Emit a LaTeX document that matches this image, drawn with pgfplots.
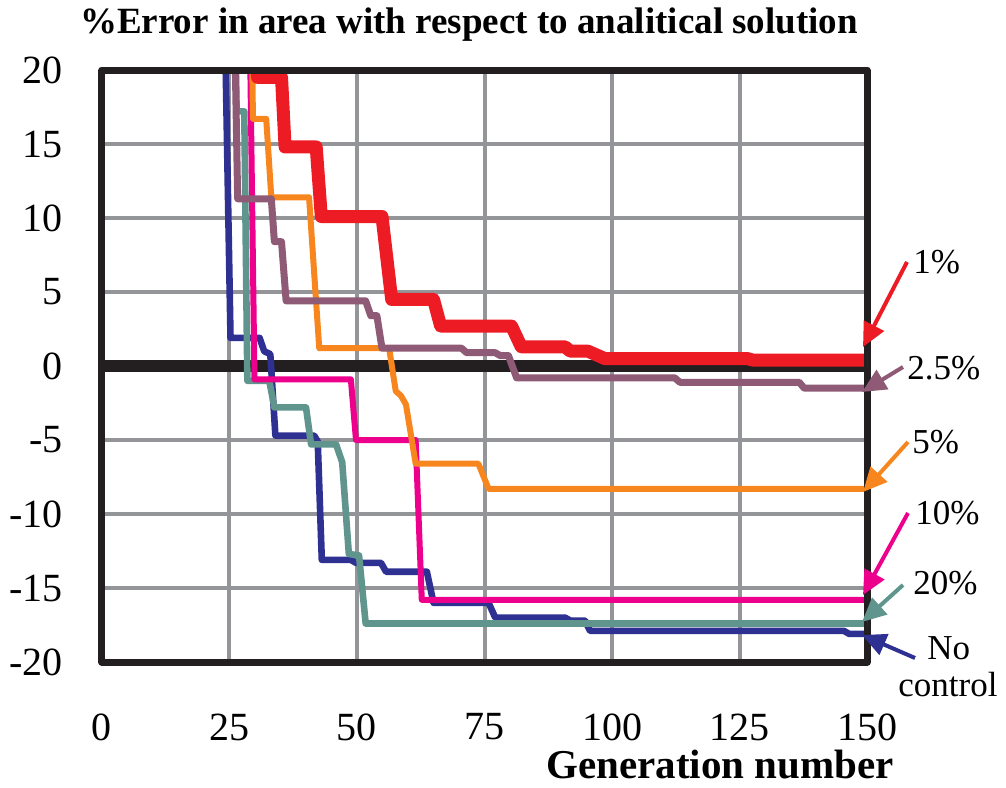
\documentclass[border=0pt]{standalone}
\usepackage{fontspec}
\setmainfont{Liberation Serif}
\usepackage{pgfplots}
\pgfplotsset{compat=1.18}
\usetikzlibrary{arrows.meta}

\definecolor{cRed}{HTML}{ED1C24}
\definecolor{cPurple}{HTML}{8E5A75}
\definecolor{cOrange}{HTML}{F7861F}
\definecolor{cMagenta}{HTML}{EC008C}
\definecolor{cTeal}{HTML}{5F958D}
\definecolor{cBlue}{HTML}{2E3192}
\definecolor{cGrid}{HTML}{939598}
\definecolor{cFrame}{HTML}{231F20}

\begin{document}
\begin{tikzpicture}
\useasboundingbox (-51pt,-62.5pt) rectangle (452pt,331pt);

%%%%%%%%%%%%%%%%%%%%%%%%%%% Axes Set-up %%%%%%%%%%%%%%%%%%%%%%%%%%%%%%%
\begin{axis}[at={(0pt,0pt)}, anchor=south west,
scale only axis, width=382.5pt, height=296pt,
xmin=0, xmax=150, ymin=-20, ymax=20,
xtick={0,25,...,150}, ytick={-20,-15,...,20},
xticklabels={0,25,50,75,100,125,150},
yticklabels={-20,-15,-10,-5,0,5,10,15,20},
major tick length=0pt,
grid=major, grid style={line width=2pt, color=cGrid},
axis line style={line width=3.5pt, color=cFrame},
tick label style={font=\fontsize{20}{22}\selectfont, inner sep=0pt},
xticklabel style={anchor=center, yshift=-32.5pt},
yticklabel style={anchor=east, xshift=-19.5pt},
line join=round]

% zero line
\addplot[no marks, line width=6pt, cFrame] coordinates {(0,0) (150,0)};

%%%%%%%%%%%%%%%%%%%%%%%%%%% No control %%%%%%%%%%%%%%%%%%%%%%%%%%%%%%%
\addplot[no marks, line width=3.3pt, cBlue] coordinates {
(24.0,25) (25.2,1.9) (30.9,1.9) (31.8,1.0) (33.0,0.8) (34.0,-4.7)
(41.6,-4.7) (42.3,-5.1) (43.1,-13.1) (48.8,-13.1) (49.8,-13.3) (54.7,-13.3)
(55.7,-13.9) (63.7,-13.9) (65.0,-16.0) (75.8,-16.0) (77.1,-17.0) (90.8,-17.0)
(91.8,-17.2) (94.7,-17.2) (95.7,-17.9) (145.5,-17.9) (146.5,-18.1) (150,-18.1)};

%%%%%%%%%%%%%%%%%%%%%%%%%%% 20% %%%%%%%%%%%%%%%%%%%%%%%%%%%%%%%
\addplot[no marks, line width=3.3pt, cTeal] coordinates {
(26.0,25) (26.4,17.2) (27.9,17.2) (28.5,-1.0) (32.8,-1.0) (33.8,-2.8)
(40.0,-2.8) (41.0,-5.3) (45.9,-5.3) (47.1,-6.5) (48.4,-12.7) (50.4,-12.8)
(51.7,-17.4) (150,-17.4)};

%%%%%%%%%%%%%%%%%%%%%%%%%%% 10% %%%%%%%%%%%%%%%%%%%%%%%%%%%%%%%
\addplot[no marks, line width=3pt, cMagenta] coordinates {
(28.9,25) (29.9,-0.9) (48.8,-0.9) (49.8,-5.0) (61.5,-5.0) (62.7,-15.8)
(150,-15.8)};

%%%%%%%%%%%%%%%%%%%%%%%%%%% 5% %%%%%%%%%%%%%%%%%%%%%%%%%%%%%%%
\addplot[no marks, line width=3pt, cOrange] coordinates {
(29.3,25) (29.6,16.7) (32.2,16.7) (33.2,11.4) (40.6,11.4) (42.6,1.2)
(56.3,1.2) (57.6,-1.7) (58.6,-2.0) (59.6,-2.6) (61.5,-6.6) (73.8,-6.6)
(75.8,-8.3) (150,-8.3)};

%%%%%%%%%%%%%%%%%%%%%%%%%%% 2.5% %%%%%%%%%%%%%%%%%%%%%%%%%%%%%%%
\addplot[no marks, line width=3.5pt, cPurple] coordinates {
(25.9,25) (26.6,11.3) (33.2,11.3) (33.8,8.4) (35.2,8.4) (36.1,4.4)
(51.7,4.4) (52.7,3.4) (53.9,3.4) (54.9,1.2) (70.5,1.2) (71.5,0.9)
(77.1,0.9) (78.1,0.7) (79.7,0.7) (81.3,-0.8) (112.3,-0.8) (113.3,-1.1)
(136.7,-1.1) (137.7,-1.5) (150,-1.5)};

%%%%%%%%%%%%%%%%%%%%%%%%%%% 1% %%%%%%%%%%%%%%%%%%%%%%%%%%%%%%%
\addplot[no marks, line width=6.5pt, cRed] coordinates {
(30.2,23) (30.5,19.5) (35.2,19.5) (35.9,14.8) (42.0,14.8) (43.0,10.1)
(54.9,10.1) (56.8,4.5) (65.0,4.5) (66.4,2.7) (80.3,2.7) (82.2,1.3)
(90.8,1.3) (91.8,1.0) (95.3,1.0) (98.6,0.5) (126.6,0.5) (127.6,0.4)
(150,0.4)};

% frame over the curves
\draw[line width=3.5pt, cFrame] (rel axis cs:0,0) rectangle (rel axis cs:1,1);
\end{axis}

%%%%%%%%%%%%%%%%%%%%%%%%%%% Titles %%%%%%%%%%%%%%%%%%%%%%%%%%%
\node[anchor=base, inner sep=0pt, font=\bfseries\fontsize{18.5}{20}\selectfont] at (183.5pt,314pt)
  {\%Error in area with respect to analitical solution};
\node[anchor=base, inner sep=0pt, font=\bfseries\fontsize{20.5}{22}\selectfont] at (309pt,-58pt)
  {Generation number};

%%%%%%%%%%%%%%%%%%%%%%%%%%% Annotations %%%%%%%%%%%%%%%%%%%%%%%%%%%
\tikzset{lab/.style={anchor=west, inner sep=0pt, font=\fontsize{17.5}{19}\selectfont},
  arr/.style={line width=2pt, -{Triangle[length=12pt,width=11pt]}}}
\draw[arr, cRed] (402.5pt,200pt) -- (380.5pt,157.5pt);
\draw[arr, cPurple] (400.5pt,147.5pt) -- (380pt,135pt);
\draw[arr, cOrange] (403pt,110pt) -- (380.5pt,85pt);
\draw[arr, cMagenta] (403pt,74.5pt) -- (380.5pt,33.5pt);
\draw[arr, cTeal] (400.5pt,38.5pt) -- (380pt,20pt);
\draw[arr, cBlue] (406.5pt,2pt) -- (380pt,13.5pt);

\node[lab] at (405.5pt,200pt) {1\%};
\node[lab] at (402.5pt,147pt) {2.5\%};
\node[lab] at (405pt,110pt) {5\%};
\node[lab] at (406.5pt,74.5pt) {10\%};
\node[lab] at (405.5pt,39.5pt) {20\%};
\node[lab] at (412.5pt,7pt) {No};
\node[lab] at (398pt,-11.5pt) {control};
\end{tikzpicture}
\end{document}
